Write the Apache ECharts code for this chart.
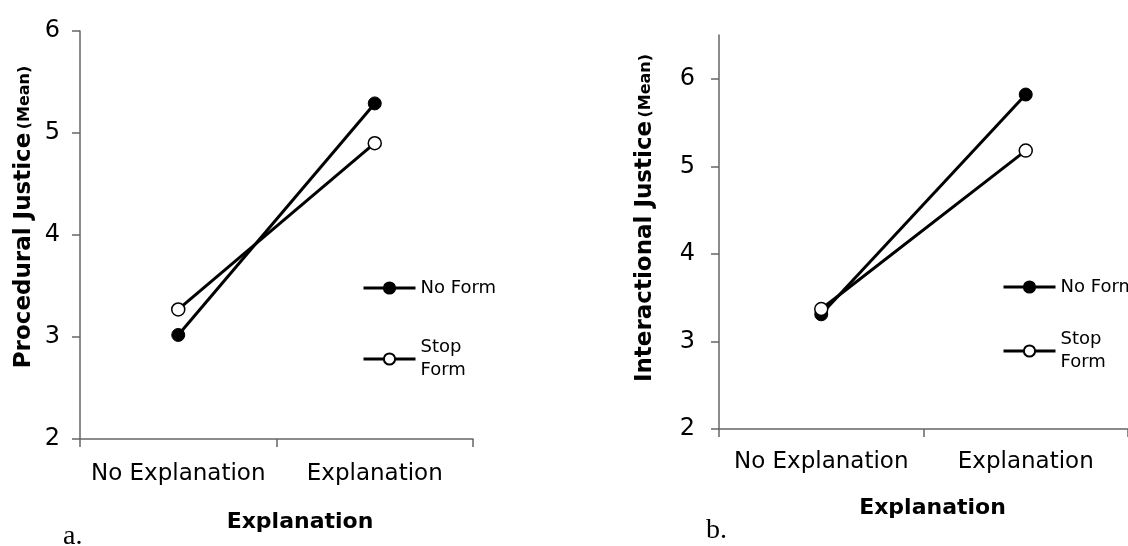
<!DOCTYPE html>
<html>
<head>
<meta charset="utf-8">
<script src="https://cdn.jsdelivr.net/npm/echarts@6/dist/echarts.min.js"></script>
<style>
  html, body { margin: 0; padding: 0; background: #fff; }
  #main { width: 1128px; height: 546px; }
</style>
</head>
<body>
<div id="main"></div>
<script>
// categories on x
const categories = ['No Explanation', 'Explanation'];
// a. procedural justice (mean)
const procNoForm = [3.02, 5.29];
const procStopForm = [3.27, 4.90];
// b. interactional justice (mean)
const interNoForm = [3.31, 5.82];
const interStopForm = [3.37, 5.18];
// tick labels
const yTicks = [2, 3, 4, 5, 6];

const FONT = 'DejaVu Sans';
const AXIS_COLOR = '#666';

const chart = echarts.init(document.getElementById('main'));

function xAxisOf(gridIndex, padLeft, nameGap, labelMargin) {
  return {
    type: 'category',
    gridIndex,
    data: categories,
    boundaryGap: true,
    name: 'Explanation',
    nameLocation: 'middle',
    nameGap,
    nameTextStyle: { fontFamily: FONT, fontSize: 22, fontWeight: 'bold', color: '#000', padding: [0, 0, 0, padLeft] },
    axisLine: { lineStyle: { color: AXIS_COLOR, width: 1.5 } },
    axisTick: { show: true, length: 8, alignWithLabel: false, lineStyle: { color: AXIS_COLOR, width: 1.5 } },
    axisLabel: { fontFamily: FONT, fontSize: 23, color: '#000', margin: labelMargin, interval: 0 },
    splitLine: { show: false }
  };
}

function yAxisOf(gridIndex, max, title, nameGap, padLeft, labelMargin) {
  return {
    type: 'value',
    gridIndex,
    min: 2,
    max,
    interval: 1,
    name: '{m|' + title + '} {s|(Mean)}',
    nameLocation: 'middle',
    nameRotate: 90,
    nameGap,
    nameTextStyle: {
      color: '#000',
      padding: [0, 0, 0, padLeft],
      rich: {
        m: { fontFamily: FONT, fontSize: 23, fontWeight: 'bold', color: '#000' },
        s: { fontFamily: FONT, fontSize: 16, fontWeight: 'bold', color: '#000' }
      }
    },
    axisLine: { show: true, lineStyle: { color: AXIS_COLOR, width: 1.5 } },
    axisTick: { show: true, length: 8, customValues: yTicks, lineStyle: { color: AXIS_COLOR, width: 1.5 } },
    axisLabel: { fontFamily: FONT, fontSize: 24, color: '#000', margin: labelMargin, customValues: yTicks },
    splitLine: { show: false }
  };
}

function lineSeries(name, data, idx, open) {
  return {
    name,
    type: 'line',
    xAxisIndex: idx,
    yAxisIndex: idx,
    data,
    symbol: 'circle',
    symbolSize: 13,
    lineStyle: { color: '#000', width: 3 },
    itemStyle: open
      ? { color: '#fff', borderColor: '#000', borderWidth: 1.5 }
      : { color: '#000', borderColor: '#000', borderWidth: 1 },
    emphasis: { disabled: true },
    animation: false
  };
}

function legendOf(name, left, top, twoLines) {
  return {
    data: [name],
    left,
    top,
    orient: 'vertical',
    padding: 0,
    itemWidth: 52,
    itemHeight: 14,
    selectedMode: false,
    lineStyle: { width: 3 },
    formatter: n => (twoLines ? n.replace(' ', '\n') : n),
    textStyle: {
      fontFamily: FONT,
      fontSize: 18,
      lineHeight: 23,
      color: '#000',
      padding: twoLines ? [23, 0, 0, 0] : 0
    }
  };
}

const option = {
  backgroundColor: '#fff',
  animation: false,
  title: [
    { text: 'a.', left: 58, top: 518, textStyle: { fontFamily: 'Liberation Serif', fontSize: 28, fontWeight: 'normal', color: '#000' } },
    { text: 'b.', left: 701, top: 512, textStyle: { fontFamily: 'Liberation Serif', fontSize: 28, fontWeight: 'normal', color: '#000' } }
  ],
  grid: [
    { left: 80, top: 31, width: 393, height: 408 },
    { left: 719, top: 35, width: 418, height: 394 }
  ],
  xAxis: [xAxisOf(0, 47, 72, 24), xAxisOf(1, 18, 68, 22)],
  yAxis: [
    yAxisOf(0, 6, 'Procedural Justice', 44, 36, 20),
    yAxisOf(1, 6.5, 'Interactional Justice', 62, 28, 24)
  ],
  legend: [
    legendOf('No Form', 362, 276.5, false),
    legendOf('Stop Form', 362, 324.5, true),
    legendOf('No Form', 1002, 275.5, false),
    legendOf('Stop Form', 1002, 316.5, true)
  ],
  series: [
    lineSeries('No Form', procNoForm, 0, false),
    lineSeries('Stop Form', procStopForm, 0, true),
    lineSeries('No Form', interNoForm, 1, false),
    lineSeries('Stop Form', interStopForm, 1, true)
  ]
};

chart.setOption(option);
</script>
</body>
</html>
